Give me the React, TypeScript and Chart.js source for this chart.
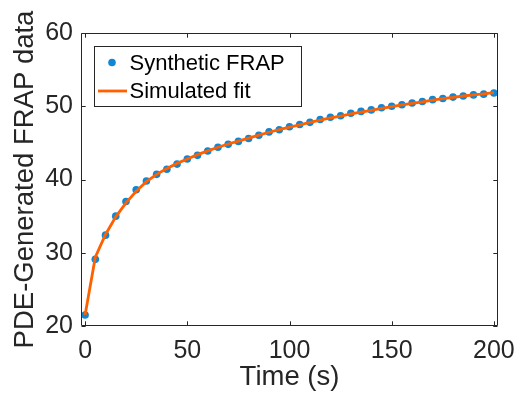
import React, { useEffect, useRef } from "react";
import { Chart, registerables } from "chart.js";

Chart.register(...registerables);

const times = [0, 5, 10, 15, 20, 25, 30, 35, 40, 45, 50, 55, 60, 65, 70, 75, 80, 85, 90, 95, 100, 105, 110, 115, 120, 125, 130, 135, 140, 145, 150, 155, 160, 165, 170, 175, 180, 185, 190, 195, 200];
const syntheticFRAP = [21.5, 29.1, 32.4, 35.0, 37.0, 38.6, 39.8, 40.7, 41.4, 42.1, 42.8, 43.3, 43.9, 44.4, 44.8, 45.2, 45.6, 46.05, 46.5, 46.8, 47.2, 47.5, 47.8, 48.2, 48.5, 48.7, 49.05, 49.3, 49.5, 49.8, 50.0, 50.2, 50.45, 50.65, 50.9, 51.05, 51.25, 51.4, 51.55, 51.65, 51.8];
const simulatedFit = [21.5, 29.4, 32.5, 34.9, 36.8, 38.4, 39.7, 40.7, 41.5, 42.2, 42.8, 43.4, 43.9, 44.4, 44.85, 45.25, 45.65, 46.05, 46.45, 46.8, 47.15, 47.45, 47.8, 48.1, 48.4, 48.65, 48.95, 49.2, 49.45, 49.7, 49.95, 50.2, 50.4, 50.6, 50.85, 51.05, 51.2, 51.4, 51.55, 51.7, 51.85];
const xTicks = [0, 50, 100, 150, 200];
const yTicks = [20, 30, 40, 50, 60];
const seriesNames = ["Synthetic FRAP", "Simulated fit"];
const xTitle = "Time (s)";
const yTitle = "PDE-Generated FRAP data";

const FONT = '"Liberation Sans", Arial, Helvetica, sans-serif';
const AXIS_COLOR = "#262626";
const BLUE = "#1187d3";
const ORANGE = "#ff6000";

const matlabAxes = {
  id: "matlabAxes",
  afterDatasetsDraw(chart: any) {
    const { ctx, chartArea } = chart;
    const { left, right, top, bottom } = chartArea;
    const xs = chart.scales.x;
    const ys = chart.scales.y;
    const tl = 4.2;
    ctx.save();
    ctx.strokeStyle = AXIS_COLOR;
    ctx.lineWidth = 1;
    ctx.beginPath();
    const L = Math.round(left) + 0.5;
    const R = Math.round(right) - 0.5;
    const T = Math.round(top) + 0.5;
    const B = Math.round(bottom) - 0.5;
    ctx.rect(L, T, R - L, B - T);
    xTicks.forEach((v) => {
      const px = Math.round(xs.getPixelForValue(v)) + 0.5;
      ctx.moveTo(px, B);
      ctx.lineTo(px, B - tl);
      ctx.moveTo(px, T);
      ctx.lineTo(px, T + tl);
    });
    yTicks.forEach((v) => {
      const py = Math.round(ys.getPixelForValue(v)) + 0.5;
      ctx.moveTo(L, py);
      ctx.lineTo(L + tl, py);
      ctx.moveTo(R, py);
      ctx.lineTo(R - tl, py);
    });
    ctx.stroke();

    // legend
    const bx = left + 12.5;
    const by = top + 13;
    const bw = 207;
    const bh = 60;
    ctx.fillStyle = "#ffffff";
    ctx.fillRect(Math.round(bx) + 0.5, Math.round(by) + 0.5, bw, bh);
    ctx.strokeStyle = AXIS_COLOR;
    ctx.lineWidth = 1;
    ctx.strokeRect(Math.round(bx) + 0.5, Math.round(by) + 0.5, bw, bh);

    const row1 = by + 16.5;
    const row2 = by + 45;
    ctx.fillStyle = BLUE;
    ctx.beginPath();
    ctx.arc(bx + 18.5, row1, 3.8, 0, Math.PI * 2);
    ctx.fill();
    ctx.strokeStyle = ORANGE;
    ctx.lineWidth = 2.8;
    ctx.beginPath();
    ctx.moveTo(bx + 4.5, row2);
    ctx.lineTo(bx + 33.5, row2);
    ctx.stroke();

    ctx.fillStyle = "#000000";
    ctx.font = `22px ${FONT}`;
    ctx.textBaseline = "middle";
    ctx.textAlign = "left";
    const labels = chart.data.datasets.map((d: any) => d.label);
    ctx.fillText(labels[0], bx + 36, row1 + 1);
    ctx.fillText(labels[1], bx + 36, row2 + 1);
    ctx.restore();
  },
};

export default function App() {
  const ref = useRef<HTMLCanvasElement>(null);
  useEffect(() => {
    if (!ref.current) return;
    const chart = new Chart(ref.current, {
      type: "scatter",
      data: {
        datasets: [
          {
            type: "scatter",
            label: seriesNames[0],
            data: times.map((t, i) => ({ x: t, y: syntheticFRAP[i] })),
            backgroundColor: BLUE,
            borderColor: BLUE,
            borderWidth: 0,
            pointRadius: 3.8,
            pointHoverRadius: 3.8,
            showLine: false,
            order: 1,
            clip: false,
          } as any,
          {
            type: "line",
            label: seriesNames[1],
            data: times.map((t, i) => ({ x: t, y: simulatedFit[i] })),
            borderColor: ORANGE,
            backgroundColor: ORANGE,
            borderWidth: 2.8,
            pointRadius: 0,
            showLine: true,
            tension: 0,
            fill: false,
            order: 0,
            clip: false,
          } as any,
        ],
      },
      options: {
        animation: false,
        responsive: false,
        maintainAspectRatio: false,
        events: [],
        layout: { padding: { top: 33, right: 16, bottom: 0, left: 0 } },
        plugins: { legend: { display: false }, tooltip: { enabled: false } },
        scales: {
          x: {
            type: "linear",
            min: -2,
            max: 202,
            grid: { display: false, drawTicks: false },
            border: { display: false },
            afterBuildTicks: (s: any) => {
              s.ticks = xTicks.map((v) => ({ value: v }));
            },
            afterFit: (s: any) => {
              s.height = 73;
              s.paddingLeft = 0;
              s.paddingRight = 0;
            },
            ticks: {
              color: AXIS_COLOR,
              font: { family: FONT, size: 25 },
              padding: 10,
              maxRotation: 0,
              autoSkip: false,
            },
            title: {
              display: true,
              text: xTitle,
              color: AXIS_COLOR,
              font: { family: FONT, size: 27.5 },
              padding: { top: 0, bottom: 5.5 },
            },
          },
          y: {
            type: "linear",
            min: 20,
            max: 60,
            grid: { display: false, drawTicks: false },
            border: { display: false },
            afterBuildTicks: (s: any) => {
              s.ticks = yTicks.map((v) => ({ value: v }));
            },
            afterFit: (s: any) => {
              s.width = 81;
              s.paddingTop = 0;
              s.paddingBottom = 0;
            },
            ticks: {
              color: AXIS_COLOR,
              font: { family: FONT, size: 25 },
              padding: 8,
              autoSkip: false,
            },
            title: {
              display: true,
              text: yTitle,
              color: AXIS_COLOR,
              font: { family: FONT, size: 27.5 },
              padding: { top: 9, bottom: 0 },
            },
          },
        },
      },
      plugins: [matlabAxes],
    });
    return () => chart.destroy();
  }, []);
  return (
    <div style={{ position: "fixed", left: 0, top: 0, width: 514, height: 399, background: "#fff" }}>
      <canvas ref={ref} width={514} height={399} style={{ width: 514, height: 399, display: "block" }} />
    </div>
  );
}
